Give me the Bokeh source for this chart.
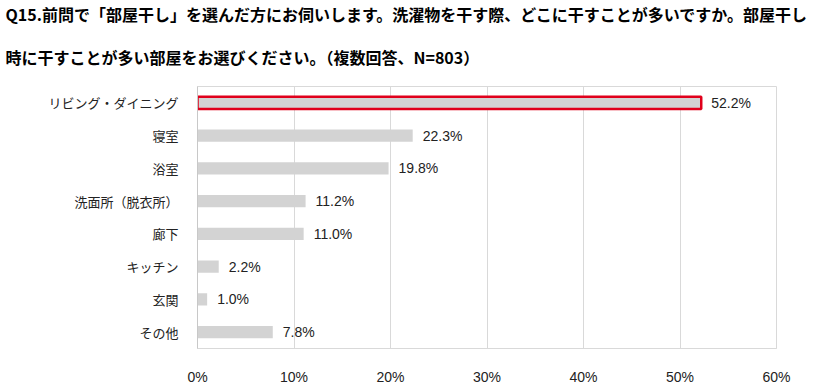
from bokeh.plotting import figure
from bokeh.models import Title, ColumnDataSource, PrintfTickFormatter, FixedTicker, Range1d, FactorRange
from bokeh.core.properties import value
from bokeh.embed import file_html
from bokeh.resources import INLINE

title_line1 = "Q15.前問で「部屋干し」を選んだ方にお伺いします。洗濯物を干す際、どこに干すことが多いですか。部屋干し"
title_line2 = "時に干すことが多い部屋をお選びください。（複数回答、N=803）"

categories = ["リビング・ダイニング", "寝室", "浴室", "洗面所（脱衣所）", "廊下", "キッチン", "玄関", "その他"]
values = [52.2, 22.3, 19.8, 11.2, 11.0, 2.2, 1.0, 7.8]
x_ticks = [0, 10, 20, 30, 40, 50, 60]

labels = [f"{v:.1f}%" for v in values]
line_colors = ["#e0001b"] + ["#d3d3d3"] * (len(values) - 1)
line_widths = [2.5] + [0] * (len(values) - 1)

src = ColumnDataSource(dict(cat=categories, val=values, lab=labels, lc=line_colors, lw=line_widths))

W, H = 826, 387
LEFT, RIGHT, TOP, BOTTOM = 197, 50, 84, 30
p = figure(width=W, height=H, output_backend="svg", toolbar_location=None,
           y_range=FactorRange(*reversed(categories), range_padding=0),
           x_range=Range1d(0, 60), title=title_line1,
           min_border_left=LEFT, min_border_right=RIGHT, min_border_bottom=BOTTOM, min_border_top=TOP)

p.add_layout(Title(text=title_line2), "above")

titles = [p.title] + [t for t in p.above if isinstance(t, Title)]
for t in titles:
    t.text_font = "Noto Sans CJK JP"
    t.text_font_size = "16px"
    t.text_font_style = "bold"
    t.text_color = "#000000"
    t.align = "left"
    t.offset = 5 - LEFT
p.title.standoff = -2
titles[1].standoff = 36

p.hbar(y="cat", right="val", left=0, height=0.38, source=src,
       fill_color="#d3d3d3", line_color="lc", line_width="lw")

p.text(x="val", y="cat", text="lab", source=src, x_offset=10,
       text_baseline="middle", text_align="left",
       text_font=value("Liberation Sans"), text_font_size="14px", text_color="#222222")

p.xaxis.ticker = FixedTicker(ticks=x_ticks)
p.xaxis.formatter = PrintfTickFormatter(format="%d%%")
p.xaxis.major_tick_line_color = None
p.xaxis.minor_tick_line_color = None
p.xaxis.axis_line_color = "#d9d9d9"
p.xaxis.major_label_text_font = "Liberation Sans"
p.xaxis.major_label_text_font_size = "14px"
p.xaxis.major_label_text_color = "#222222"
p.xaxis.major_label_standoff = 14

p.yaxis.major_tick_line_color = None
p.yaxis.minor_tick_line_color = None
p.yaxis.axis_line_color = "#c8c8c8"
p.yaxis.major_label_text_font = "Noto Sans CJK JP"
p.yaxis.major_label_text_font_size = "13px"
p.yaxis.major_label_text_color = "#222222"
p.yaxis.major_label_standoff = 13

p.xgrid.grid_line_color = "#d9d9d9"
p.xgrid.ticker = FixedTicker(ticks=x_ticks)
p.ygrid.grid_line_color = None
p.outline_line_color = "#d9d9d9"
p.background_fill_color = "white"
p.border_fill_color = "white"

open("out.html", "w").write(file_html(p, INLINE))
